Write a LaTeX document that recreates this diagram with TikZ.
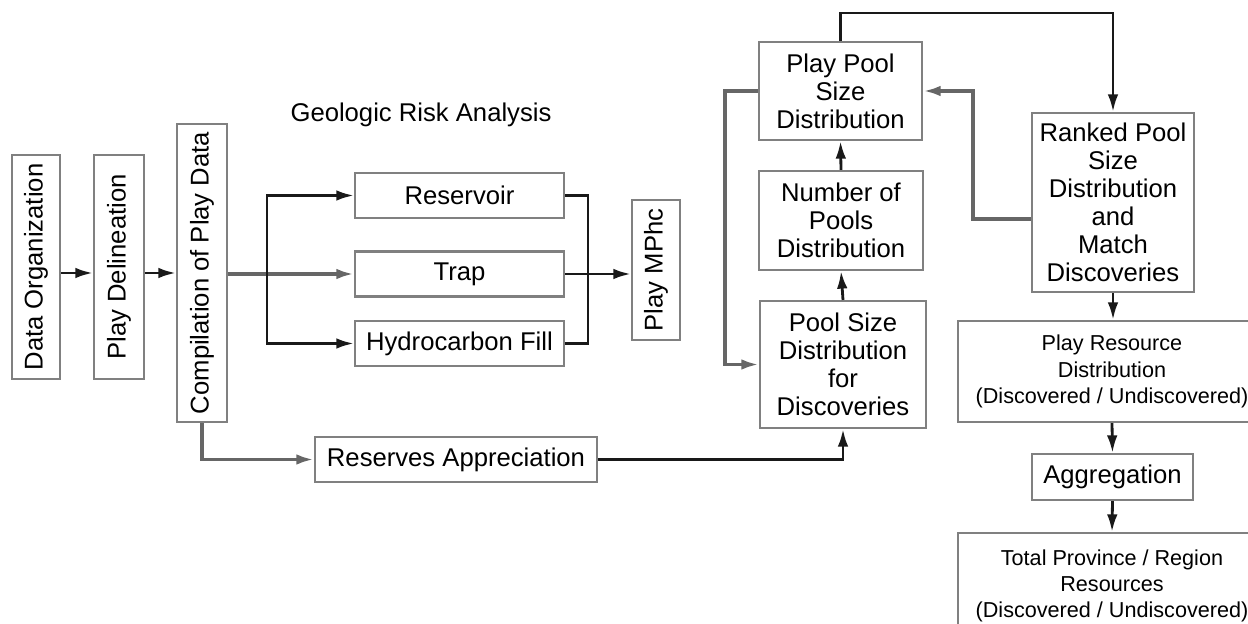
\documentclass[tikz,border=0pt]{standalone}
\usepackage{fontspec}
\setmainfont{Liberation Sans}
\usetikzlibrary{arrows.meta}

\begin{document}
\begin{tikzpicture}[x=0.02cm, y=-0.02cm,
    box/.style={draw=black!50, line width=1.2pt, inner sep=0pt, align=center, font=\fontsize{14.6}{16}\selectfont},
    smallbox/.style={box, font=\fontsize{12.3}{15}\selectfont},
    line/.style={line width=1.6pt, draw=black!90},
    greyline/.style={line width=2pt, draw=black!60},
    flow/.style={line, -{Latex[length=10pt,width=6pt]}},
    greyflow/.style={greyline, -{Latex[length=10pt,width=6pt]}}]
    \useasboundingbox (0,0) rectangle (1248,624);
    \node [box, minimum width=0.96cm, minimum height=4.48cm] (dataorg) at (36,267) {\rotatebox{90}{Data Organization}};
    \node [box, minimum width=1cm, minimum height=4.48cm] (playdel) at (119,267) {\rotatebox{90}{Play Delineation}};
    \node [box, minimum width=1cm, minimum height=5.96cm] (compile) at (202,273) {\rotatebox{90}{Compilation of Play Data}};
    \node [font=\fontsize{14.6}{16}\selectfont] (title) at (421,115) {Geologic Risk Analysis};
    \node [box, minimum width=4.18cm, minimum height=0.9cm] (reservoir) at (459.5,195.5) {Reservoir};
    \node [box, minimum width=4.18cm, minimum height=0.9cm] (trap) at (459.5,274) {Trap};
    \node [box, minimum width=4.18cm, minimum height=0.9cm] (hcfill) at (459.5,343.5) {Hydrocarbon Fill};
    \node [box, minimum width=0.96cm, minimum height=2.8cm] (mphc) at (656,270) {\rotatebox{90}{Play MPhc}};
    \node [box, minimum width=5.64cm, minimum height=0.9cm] (reserves) at (456,459.5) {Reserves Appreciation};
    \node [box, minimum width=3.26cm, minimum height=1.96cm] (playpool) at (840.5,91) {Play Pool\\Size\\Distribution};
    \node [box, minimum width=3.28cm, minimum height=1.98cm] (numpools) at (841,220.5) {Number of\\Pools\\Distribution};
    \node [box, minimum width=3.32cm, minimum height=2.54cm] (poolsize) at (843,364.5) {Pool Size\\Distribution\\for\\Discoveries};
    \node [box, minimum width=3.24cm, minimum height=3.58cm] (ranked) at (1113,202.5) {Ranked Pool\\Size\\Distribution\\and\\Match\\Discoveries};
    \node [smallbox, minimum width=6.16cm, minimum height=2.02cm] (playres) at (1112,371.5) {Play Resource\\Distribution\\(Discovered / Undiscovered)};
    \node [box, minimum width=3.22cm, minimum height=0.92cm] (aggreg) at (1112.5,477) {Aggregation};
    \node [smallbox, minimum width=6.16cm, minimum height=2.12cm] (total) at (1112,586) {Total Province / Region\\Resources\\(Discovered / Undiscovered)};

    \coordinate (split) at (267,274);
    \coordinate (merge) at (588,272);
    \coordinate (tbend) at (840,13);
    \coordinate (rbend) at (973,219);
    \coordinate (lbend) at (725,91);

    \draw [flow] (dataorg.east |- compile) -- (playdel.west |- compile);
    \draw [flow] (playdel.east |- compile) -- (compile.west);
    \draw [greyflow] (compile.east |- trap) -- (trap.west);
    \draw [flow] (split) |- (reservoir.west);
    \draw [flow] (split) |- (hcfill.west);
    \draw [line] (reservoir.east) -| (merge);
    \draw [line] (hcfill.east) -| (merge);
    \draw [flow] (trap.east) -- (trap.east -| mphc.west);
    \draw [greyflow] (compile.south) |- (reserves.west);
    \draw [flow] (reserves.east) -| (poolsize.south);
    \draw [flow] (poolsize.north) -- (numpools.south);
    \draw [flow] (numpools.north) -- (playpool.south);
    \draw [flow] (playpool.north) -- (playpool.north |- tbend) -| (ranked.north);
    \draw [greyflow] (rbend -| ranked.west) -- (rbend) |- (playpool.east);
    \draw [greyflow] (playpool.west) -- (lbend |- playpool.west) |- (poolsize.west);
    \draw [flow] (ranked.south) -- (ranked.south |- playres.north);
    \draw [flow] (playres.south) -- (aggreg.north);
    \draw [flow] (aggreg.south) -- (total.north);
\end{tikzpicture}
\end{document}
